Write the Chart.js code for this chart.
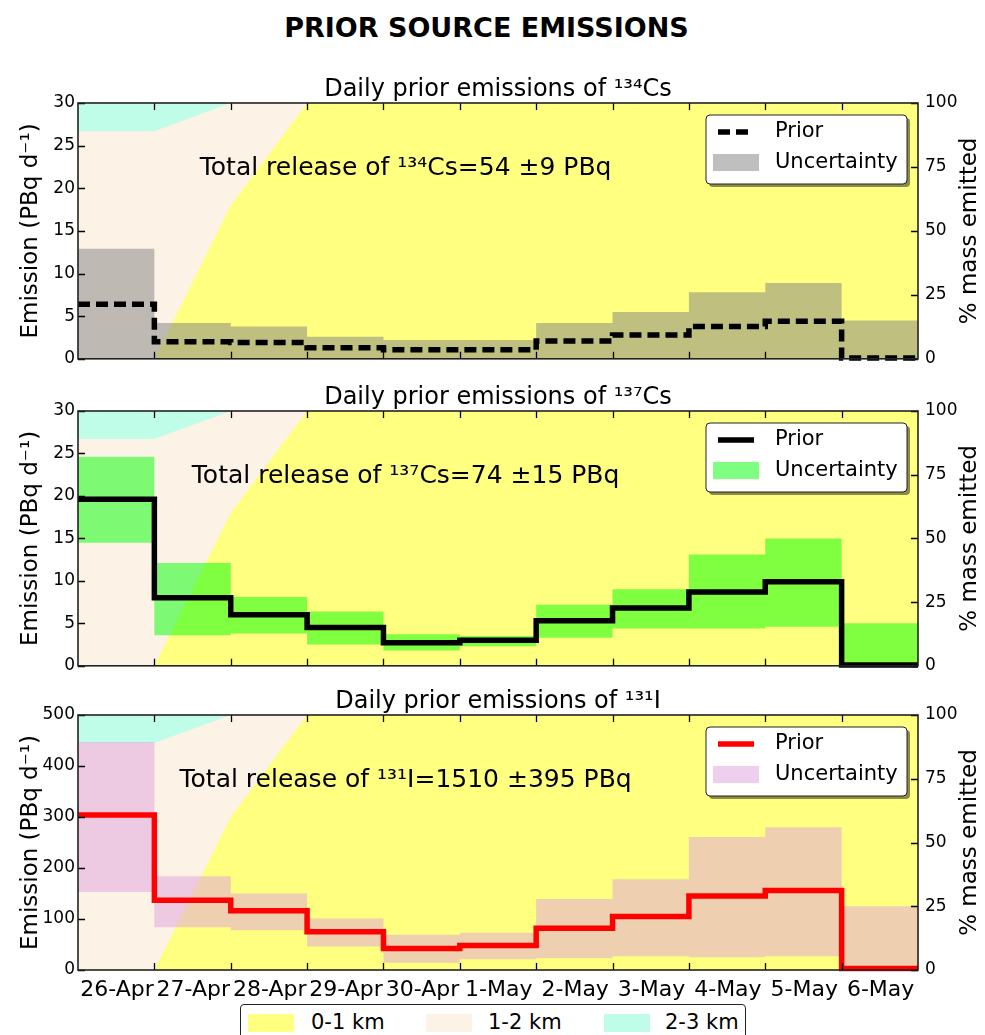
<!DOCTYPE html>
<html lang="en">
<head>
<meta charset="UTF-8">
<title>Prior source emissions</title>
<script src="https://cdn.jsdelivr.net/npm/chart.js"></script>
<style>
  body { margin: 0; background: #fff; font-family: 'DejaVu Sans', sans-serif; overflow: hidden; }
  #page { position: relative; width: 985px; height: 1035px; overflow: hidden; }
  #mainTitle {
    position: absolute; top: 14px; left: 0; width: 973px; margin: 0;
    text-align: center; font-size: 27px; line-height: 27px; font-weight: bold; color: #000;
  }
  canvas { position: absolute; left: 0; }
  #heightLegend {
    position: absolute; left: 240px; top: 1004px; width: 504px; height: 50px;
    border: 1px solid #222; border-radius: 4px; background: #fff;
  }
  #heightLegend .patch { position: absolute; top: 9px; width: 46px; height: 18px; }
  #heightLegend .lbl { position: absolute; top: 3px; font-size: 21px; line-height: 28px; color: #000; }
</style>
</head>
<body>
<div id="page">
  <div id="mainTitle">PRIOR SOURCE EMISSIONS</div>
  <canvas id="cs134" width="985" height="321" style="top:55px"></canvas>
  <canvas id="cs137" width="985" height="320" style="top:363px"></canvas>
  <canvas id="i131" width="985" height="337" style="top:667px"></canvas>
  <div id="heightLegend"></div>
</div>

<script>
  // day labels (each value holds for the whole day)
  const days = ['26-Apr', '27-Apr', '28-Apr', '29-Apr', '30-Apr', '1-May', '2-May', '3-May', '4-May', '5-May', '6-May'];

  // release height bands, cumulative % mass emitted at day boundaries (26-Apr .. 7-May)
  const layerNames = ['0-1 km', '1-2 km', '2-3 km'];
  const layerColors = ['#ffff80', '#fdf2e6', '#bffde8'];
  const top01 = [0, 0, 60, 100, 100, 100, 100, 100, 100, 100, 100, 100];
  const top12 = [89, 89, 100, 100, 100, 100, 100, 100, 100, 100, 100, 100];
  const top23 = [100, 100, 100, 100, 100, 100, 100, 100, 100, 100, 100, 100];

  // 134Cs (PBq/d)
  const cs134Prior = [6.4, 2.0, 1.9, 1.3, 1.05, 1.05, 2.1, 2.8, 3.8, 4.4, 0.1];
  const cs134Low = [0, 0, 0, 0, 0, 0, 0, 0, 0, 0, 0];
  const cs134High = [12.9, 4.2, 3.8, 2.6, 2.2, 2.2, 4.2, 5.5, 7.8, 8.9, 4.5];

  // 137Cs (PBq/d)
  const cs137Prior = [19.6, 8.0, 6.0, 4.5, 2.7, 3.0, 5.3, 6.8, 8.7, 9.9, 0.1];
  const cs137Low = [14.5, 3.6, 3.8, 2.5, 1.8, 2.3, 3.3, 4.4, 4.4, 4.6, 0];
  const cs137High = [24.6, 12.1, 8.1, 6.4, 3.7, 3.5, 7.2, 9.0, 13.1, 15.0, 5.0];

  // 131I (PBq/d)
  const i131Prior = [304, 137, 116, 75, 42, 48, 82, 105, 145, 156, 3];
  const i131Low = [153, 84, 78, 46, 14, 21, 23, 27, 25, 27, 0];
  const i131High = [447, 184, 150, 101, 69, 73, 139, 178, 261, 280, 125];

  // value i holds from day i to day i+1
  function steps(vals) {
    const pts = vals.map((v, i) => ({ x: i, y: v }));
    pts.push({ x: vals.length, y: vals[vals.length - 1] });
    return pts;
  }

  function layer(tops, color, order) {
    return {
      data: tops.map((v, i) => ({ x: i, y: v })),
      yAxisID: 'yR', fill: 'origin', backgroundColor: color,
      borderWidth: 0, borderColor: 'transparent', pointRadius: 0, order: order
    };
  }

  // inward ticks, frame, titles, text and the small legend
  const deco = {
    id: 'deco',
    afterDraw(chart, args, o) {
      const { ctx, chartArea: a, scales } = chart;
      ctx.save();

      ctx.strokeStyle = '#000';
      ctx.lineWidth = 1.3;
      ctx.beginPath();
      scales.x.ticks.forEach(t => {
        if (t.value <= 0 || t.value >= 11) return;
        const px = Math.round(scales.x.getPixelForValue(t.value)) + 0.5;
        ctx.moveTo(px, a.bottom); ctx.lineTo(px, a.bottom - 7);
        ctx.moveTo(px, a.top); ctx.lineTo(px, a.top + 7);
      });
      scales.y.ticks.forEach(t => {
        const py = Math.round(scales.y.getPixelForValue(t.value)) + 0.5;
        ctx.moveTo(a.left, py); ctx.lineTo(a.left + 7, py);
      });
      scales.yR.ticks.forEach(t => {
        const py = Math.round(scales.yR.getPixelForValue(t.value)) + 0.5;
        ctx.moveTo(a.right, py); ctx.lineTo(a.right - 7, py);
      });
      ctx.stroke();

      ctx.lineWidth = 1.6;
      ctx.strokeStyle = '#222';
      ctx.strokeRect(a.left, a.top, a.width, a.height);

      ctx.fillStyle = '#000';
      ctx.textAlign = 'center';
      ctx.textBaseline = 'alphabetic';
      ctx.font = '24px "DejaVu Sans"';
      ctx.fillText(o.title, (a.left + a.right) / 2, a.top - 7);

      ctx.font = '25px "DejaVu Sans"';
      ctx.fillText(o.note, a.left + 0.39 * a.width, a.top + 72);

      // axis titles
      ctx.font = '23px "DejaVu Sans"';
      ctx.textBaseline = 'middle';
      const cy = (a.top + a.bottom) / 2;
      ctx.save();
      ctx.translate(31, cy); ctx.rotate(-Math.PI / 2);
      ctx.fillText('Emission (PBq d\u207B\u00B9)', 0, 0);
      ctx.restore();
      ctx.save();
      ctx.translate(970, cy); ctx.rotate(-Math.PI / 2);
      ctx.fillText('% mass emitted', 0, 0);
      ctx.restore();

      // legend box
      const bx = a.right - 212, by = a.top + 12, bw = 201, bh = 69;
      ctx.fillStyle = 'rgba(0,0,0,0.45)';
      ctx.beginPath(); ctx.roundRect(bx + 3, by + 3, bw, bh, 4); ctx.fill();
      ctx.fillStyle = '#fff';
      ctx.beginPath(); ctx.roundRect(bx, by, bw, bh, 4); ctx.fill();
      ctx.lineWidth = 1; ctx.strokeStyle = '#222'; ctx.stroke();

      ctx.strokeStyle = o.lineColor;
      ctx.lineWidth = 5.5;
      ctx.setLineDash(o.dash);
      ctx.beginPath(); ctx.moveTo(bx + 12, by + 17); ctx.lineTo(bx + 48, by + 17); ctx.stroke();
      ctx.setLineDash([]);

      ctx.fillStyle = o.band;
      ctx.fillRect(bx + 7, by + 39, 46, 17);

      ctx.fillStyle = '#000';
      ctx.textAlign = 'left';
      ctx.font = '21px "DejaVu Sans"';
      ctx.fillText('Prior', bx + 69, by + 17);
      ctx.fillText('Uncertainty', bx + 69, by + 48);
      ctx.restore();
    }
  };

  function panel(id, cfg) {
    return new Chart(document.getElementById(id), {
      type: 'line',
      data: {
        datasets: [
          layer(top23, layerColors[2], 10),
          layer(top12, layerColors[1], 9),
          layer(top01, layerColors[0], 8),
          {
            label: 'Uncertainty', data: steps(cfg.high), yAxisID: 'y', stepped: true,
            fill: '+1', backgroundColor: cfg.band, borderWidth: 0, borderColor: 'transparent',
            pointRadius: 0, order: 5
          },
          {
            label: 'lower', data: steps(cfg.low), yAxisID: 'y', stepped: true,
            fill: false, borderWidth: 0, borderColor: 'transparent', pointRadius: 0, order: 6
          },
          {
            label: 'Prior', data: steps(cfg.prior), yAxisID: 'y', stepped: true, fill: false,
            borderColor: cfg.lineColor, borderWidth: 5.5, borderDash: cfg.dash,
            borderCapStyle: 'butt', borderJoinStyle: 'miter', pointRadius: 0, order: 1, clip: 4
          }
        ]
      },
      options: {
        responsive: false,
        animation: false,
        layout: { padding: { top: 48, bottom: cfg.showDays ? 0 : 4, left: 0, right: 0 } },
        plugins: {
          legend: { display: false },
          tooltip: { enabled: false },
          deco: { title: cfg.title, note: cfg.note, lineColor: cfg.lineColor, dash: cfg.dash, band: cfg.band }
        },
        scales: {
          x: {
            type: 'linear', min: 0, max: 11,
            grid: { display: false, drawTicks: false }, border: { display: false },
            ticks: {
              display: cfg.showDays, stepSize: 1, autoSkip: false, maxRotation: 0, minRotation: 0,
              labelOffset: 39, padding: 7, color: '#000', font: { family: 'DejaVu Sans', size: 22 },
              callback: v => days[v] ?? ''
            },
            afterFit: s => { s.height = cfg.showDays ? 34 : 0; }
          },
          y: {
            position: 'left', min: 0, max: cfg.max,
            grid: { display: false, drawTicks: false }, border: { display: false },
            ticks: { stepSize: cfg.step, padding: 3, color: '#000', font: { family: 'DejaVu Sans', size: 17 } },
            afterFit: s => { s.width = 78; }
          },
          yR: {
            position: 'right', min: 0, max: 100,
            grid: { display: false, drawTicks: false }, border: { display: false },
            ticks: { stepSize: 25, padding: 7, color: '#000', font: { family: 'DejaVu Sans', size: 17 } },
            afterFit: s => { s.width = 67; }
          }
        }
      },
      plugins: [deco]
    });
  }

  panel('cs134', {
    title: 'Daily prior emissions of \u00B9\u00B3\u2074Cs',
    note: 'Total release of \u00B9\u00B3\u2074Cs=54 \u00B19 PBq',
    prior: cs134Prior, low: cs134Low, high: cs134High,
    max: 30, step: 5, lineColor: '#000', dash: [12, 6], band: 'rgba(128,128,128,0.5)', showDays: false
  });

  panel('cs137', {
    title: 'Daily prior emissions of \u00B9\u00B3\u2077Cs',
    note: 'Total release of \u00B9\u00B3\u2077Cs=74 \u00B115 PBq',
    prior: cs137Prior, low: cs137Low, high: cs137High,
    max: 30, step: 5, lineColor: '#000', dash: [], band: 'rgba(0,255,0,0.5)', showDays: false
  });

  panel('i131', {
    title: 'Daily prior emissions of \u00B9\u00B3\u00B9I',
    note: 'Total release of \u00B9\u00B3\u00B9I=1510 \u00B1395 PBq',
    prior: i131Prior, low: i131Low, high: i131High,
    max: 500, step: 100, lineColor: '#ff0000', dash: [], band: 'rgba(221,160,221,0.5)', showDays: true
  });

  // height band legend at the bottom
  const legendBox = document.getElementById('heightLegend');
  layerNames.forEach((name, i) => {
    const patch = document.createElement('div');
    patch.className = 'patch';
    patch.style.left = (7 + i * 178) + 'px';
    patch.style.background = layerColors[i];
    const lbl = document.createElement('div');
    lbl.className = 'lbl';
    lbl.style.left = (70 + i * 177) + 'px';
    lbl.textContent = name;
    legendBox.appendChild(patch);
    legendBox.appendChild(lbl);
  });
</script>
</body>
</html>
